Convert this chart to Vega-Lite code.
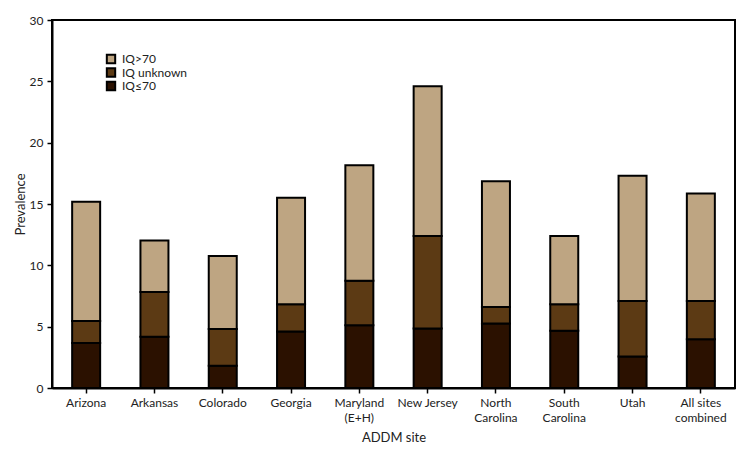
{
  "$schema": "https://vega.github.io/schema/vega-lite/v6.json",
  "width": 683,
  "height": 368,
  "autosize": {"type": "none"},
  "padding": {"left": 52, "top": 20, "right": 15, "bottom": 67},
  "background": "white",
  "config": {
    "font": "Lato",
    "view": {"stroke": "#000", "strokeWidth": 2},
    "axis": {"domainColor": "#000", "domainWidth": 2, "tickColor": "#000", "tickWidth": 1.5, "tickSize": 5, "labelColor": "#222", "titleColor": "#222", "labelFontSize": 12, "titleFontSize": 13, "titleFontWeight": "normal", "grid": false}
  },
  "data": {
    "values": [
      {"site": "Arizona", "group": "IQ≤70", "ord": 1, "value": 3.66},
      {"site": "Arizona", "group": "IQ unknown", "ord": 2, "value": 1.81},
      {"site": "Arizona", "group": "IQ>70", "ord": 3, "value": 9.71},
      {"site": "Arkansas", "group": "IQ≤70", "ord": 1, "value": 4.17},
      {"site": "Arkansas", "group": "IQ unknown", "ord": 2, "value": 3.66},
      {"site": "Arkansas", "group": "IQ>70", "ord": 3, "value": 4.2},
      {"site": "Colorado", "group": "IQ≤70", "ord": 1, "value": 1.81},
      {"site": "Colorado", "group": "IQ unknown", "ord": 2, "value": 2.99},
      {"site": "Colorado", "group": "IQ>70", "ord": 3, "value": 5.96},
      {"site": "Georgia", "group": "IQ≤70", "ord": 1, "value": 4.6},
      {"site": "Georgia", "group": "IQ unknown", "ord": 2, "value": 2.23},
      {"site": "Georgia", "group": "IQ>70", "ord": 3, "value": 8.67},
      {"site": "Maryland|(E+H)", "group": "IQ≤70", "ord": 1, "value": 5.12},
      {"site": "Maryland|(E+H)", "group": "IQ unknown", "ord": 2, "value": 3.63},
      {"site": "Maryland|(E+H)", "group": "IQ>70", "ord": 3, "value": 9.41},
      {"site": "New Jersey", "group": "IQ≤70", "ord": 1, "value": 4.85},
      {"site": "New Jersey", "group": "IQ unknown", "ord": 2, "value": 7.55},
      {"site": "New Jersey", "group": "IQ>70", "ord": 3, "value": 12.2},
      {"site": "North|Carolina", "group": "IQ≤70", "ord": 1, "value": 5.26},
      {"site": "North|Carolina", "group": "IQ unknown", "ord": 2, "value": 1.34},
      {"site": "North|Carolina", "group": "IQ>70", "ord": 3, "value": 10.26},
      {"site": "South|Carolina", "group": "IQ≤70", "ord": 1, "value": 4.66},
      {"site": "South|Carolina", "group": "IQ unknown", "ord": 2, "value": 2.17},
      {"site": "South|Carolina", "group": "IQ>70", "ord": 3, "value": 5.57},
      {"site": "Utah", "group": "IQ≤70", "ord": 1, "value": 2.57},
      {"site": "Utah", "group": "IQ unknown", "ord": 2, "value": 4.53},
      {"site": "Utah", "group": "IQ>70", "ord": 3, "value": 10.2},
      {"site": "All sites|combined", "group": "IQ≤70", "ord": 1, "value": 3.98},
      {"site": "All sites|combined", "group": "IQ unknown", "ord": 2, "value": 3.12},
      {"site": "All sites|combined", "group": "IQ>70", "ord": 3, "value": 8.75}
    ]
  },
  "mark": {"type": "bar", "stroke": "#000", "strokeWidth": 2},
  "encoding": {
    "x": {
      "field": "site", "type": "nominal", "sort": null,
      "scale": {"paddingInner": 0.59, "paddingOuter": 0.295},
      "axis": {"title": "ADDM site", "labelAngle": 0, "labelExpr": "split(datum.label, '|')", "labelPadding": 4, "titlePadding": 8, "labelLineHeight": 15}
    },
    "y": {
      "field": "value", "type": "quantitative", "stack": "zero",
      "scale": {"domain": [0, 30]},
      "axis": {"title": "Prevalence", "values": [0, 5, 10, 15, 20, 25, 30], "labelPadding": 4, "titlePadding": 2}
    },
    "color": {
      "field": "group", "type": "nominal",
      "scale": {"domain": ["IQ>70", "IQ unknown", "IQ≤70"], "range": ["#BEA582", "#5C3A14", "#2B1100"]},
      "legend": {"title": null, "orient": "none", "legendX": 53, "legendY": 33, "symbolType": "square", "symbolSize": 70, "symbolStrokeColor": "#000", "symbolStrokeWidth": 2, "labelFontSize": 12, "labelColor": "#222", "rowPadding": 1.5, "clipHeight": 12, "labelOffset": 5}
    },
    "order": {"field": "ord", "type": "quantitative"}
  }
}
